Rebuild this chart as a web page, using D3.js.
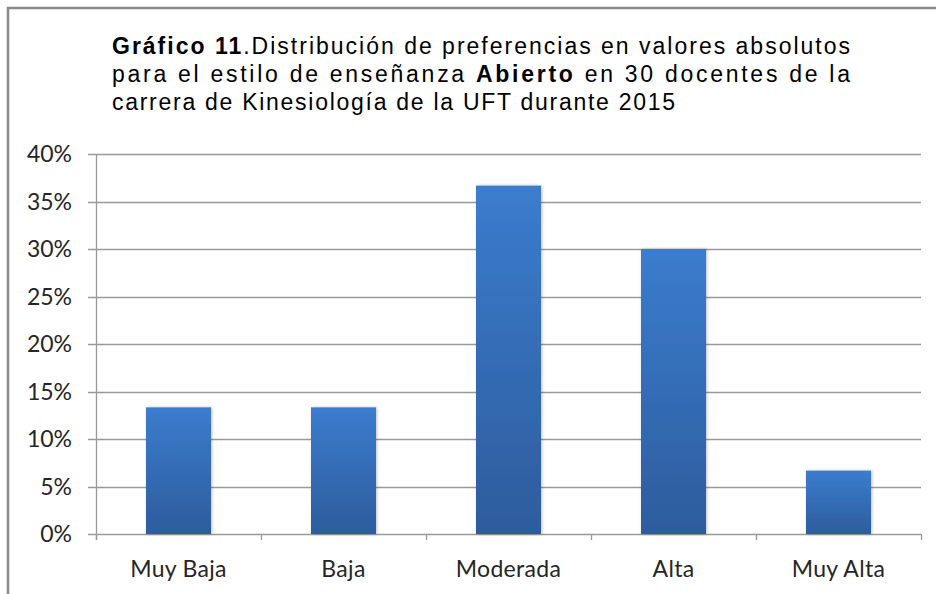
<!DOCTYPE html>
<html>
<head>
<meta charset="utf-8">
<script src="https://cdn.jsdelivr.net/npm/d3@7"></script>
<style>
  body { margin: 0; background: #fff; }
  svg { display: block; }
</style>
</head>
<body>
<div id="chart"></div>
<script>
var width = 936, height = 594;
var margin = {top: 154, right: 15, bottom: 60, left: 96};

// categories and shares (counts out of 30 teachers)
var categories = ["Muy Baja", "Baja", "Moderada", "Alta", "Muy Alta"];
var values = [0.1333, 0.1333, 0.3667, 0.30, 0.0667];
var yTicks = [0, 0.05, 0.10, 0.15, 0.20, 0.25, 0.30, 0.35, 0.40];

var data = categories.map(function(c, i) { return {cat: c, val: values[i]}; });

var svg = d3.select("#chart")
    .append("svg")
        .attr("width", width)
        .attr("height", height);

// bar gradient
var grad = svg.append("defs").append("linearGradient")
    .attr("id", "barGrad")
    .attr("x1", 0).attr("y1", 0).attr("x2", 0).attr("y2", 1);
grad.append("stop").attr("offset", "0%").attr("stop-color", "#3b7cce");
grad.append("stop").attr("offset", "100%").attr("stop-color", "#2d5c9c");

var shadow = svg.select("defs").append("filter")
    .attr("id", "shadow").attr("x", "-20%").attr("y", "-5%")
    .attr("width", "140%").attr("height", "110%");
shadow.append("feDropShadow")
    .attr("dx", 1).attr("dy", 0).attr("stdDeviation", 1.5)
    .attr("flood-color", "#000").attr("flood-opacity", 0.25);

// outer frame (top and left visible)
svg.append("path")
    .attr("d", "M8," + height + "V8H" + width)
    .attr("fill", "none")
    .attr("stroke", "#8a8a8a")
    .attr("stroke-width", 2.5);

// title, justified like the original
var titleFont = "'Liberation Sans', Arial, sans-serif";

var l1 = svg.append("text")
    .attr("font-family", titleFont).attr("font-size", 23)
    .attr("x", 112).attr("y", 54)
    .attr("textLength", 738).attr("lengthAdjust", "spacing");
l1.append("tspan").attr("font-weight", "bold").text("Gráfico 11");
l1.append("tspan").text(".Distribución de preferencias en valores absolutos");

var l2 = svg.append("text")
    .attr("font-family", titleFont).attr("font-size", 23)
    .attr("x", 112).attr("y", 82)
    .attr("textLength", 738).attr("lengthAdjust", "spacing");
l2.append("tspan").text("para el estilo de enseñanza ");
l2.append("tspan").attr("font-weight", "bold").text("Abierto");
l2.append("tspan").text(" en 30 docentes de la");

svg.append("text")
    .attr("font-family", titleFont).attr("font-size", 23)
    .attr("x", 112).attr("y", 110)
    .attr("textLength", 563).attr("lengthAdjust", "spacing")
    .text("carrera de Kinesiología de la UFT durante 2015");

var x = d3.scaleBand()
    .domain(categories)
    .range([margin.left, width - margin.right])
    .paddingInner(0.606)
    .paddingOuter(0.303);

var y = d3.scaleLinear()
    .domain([0, 0.40])
    .range([height - margin.bottom, margin.top]);

var g = svg.append("g");

// gridlines
g.selectAll(".grid")
    .data(yTicks)
    .join("line")
        .attr("x1", margin.left - 8)
        .attr("x2", width - margin.right)
        .attr("y1", function(d) { return Math.round(y(d)) + 0.5; })
        .attr("y2", function(d) { return Math.round(y(d)) + 0.5; })
        .attr("stroke", "#9a9a9a")
        .attr("stroke-width", 1.3);

// y axis line
g.append("line")
    .attr("x1", margin.left + 0.5).attr("x2", margin.left + 0.5)
    .attr("y1", y(0.40)).attr("y2", y(0) + 6)
    .attr("stroke", "#9a9a9a").attr("stroke-width", 1.3);

// x category ticks
var bounds = categories.map(function(c) { return x(c) - x.step() * x.paddingInner() / 2; });
bounds.push(width - margin.right);
g.selectAll(".xtick")
    .data(bounds)
    .join("line")
        .attr("x1", function(d) { return Math.round(d) + 0.5; })
        .attr("x2", function(d) { return Math.round(d) + 0.5; })
        .attr("y1", y(0))
        .attr("y2", y(0) + 6)
        .attr("stroke", "#9a9a9a").attr("stroke-width", 1.3);

// y labels
g.selectAll(".ylab")
    .data(yTicks)
    .join("text")
        .attr("x", 72)
        .attr("y", function(d) { return y(d) + 8; })
        .attr("text-anchor", "end")
        .attr("font-family", "Lato, 'Open Sans', sans-serif")
        .attr("font-size", 23)
        .attr("fill", "#262626")
        .text(function(d) { return d3.format(".0%")(d); });

// bars
g.selectAll(".bar")
    .data(data)
    .join("rect")
        .attr("x", function(d) { return x(d.cat); })
        .attr("width", x.bandwidth())
        .attr("y", function(d) { return y(d.val); })
        .attr("height", function(d) { return y(0) - y(d.val); })
        .attr("fill", "url(#barGrad)")
        .attr("filter", "url(#shadow)");

// x labels
g.selectAll(".xlab")
    .data(categories)
    .join("text")
        .attr("x", function(d) { return x(d) + x.bandwidth() / 2; })
        .attr("y", 577)
        .attr("text-anchor", "middle")
        .attr("font-family", "Lato, 'Open Sans', sans-serif")
        .attr("font-size", 23)
        .attr("letter-spacing", 0.3)
        .attr("fill", "#262626")
        .text(function(d) { return d; });
</script>
</body>
</html>
